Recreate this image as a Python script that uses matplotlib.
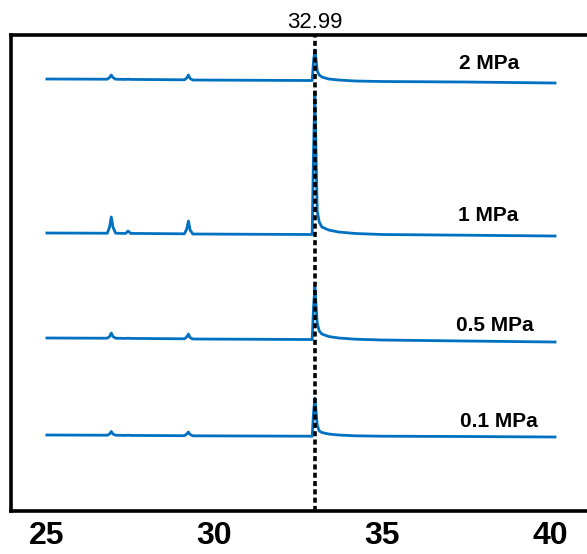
import matplotlib.pyplot as plt

# two-theta sample points (deg)
two_theta = [25.0, 26.8, 26.87, 26.92, 26.97, 27.05, 27.35, 27.42, 27.5,
             29.1, 29.17, 29.22, 29.27, 29.35, 32.91, 32.95, 32.99, 33.03,
             33.06, 33.12, 33.2, 33.4, 33.7, 34.2, 35.0, 37.5, 40.15]

# stacked intensity traces (offset already included)
i_01 = [76, 75.8, 77, 79.5, 77, 75.8, 75.6, 75.8, 75.6,
        75.3, 77, 79, 76.5, 75.2, 74.8, 98, 113, 98,
        86, 80, 78.5, 77, 76, 75.2, 74.8, 74.5, 74]
i_05 = [173, 172.8, 174.5, 178, 174.5, 172.8, 172.6, 172.8, 172.6,
        172.2, 174, 177, 173.5, 172, 171.5, 204, 224, 204,
        188, 180, 177, 174.5, 173, 171.8, 171, 170, 169]
i_1 = [278, 277.8, 284, 294, 284, 277.8, 277.6, 280, 277.6,
       277.2, 282, 290, 281, 277, 276.5, 360, 419, 350,
       300, 289, 284, 281, 279, 277.5, 276.5, 275.8, 275]
i_2 = [432, 431.8, 433.5, 436, 433.5, 431.8, 431.6, 431.8, 431.6,
       431.2, 433, 436, 432.5, 431, 430.5, 450, 461, 450,
       440, 436, 434, 432, 431, 430, 429.5, 429, 428]

labels = ['0.1 MPa', '0.5 MPa', '1 MPa', '2 MPa']
label_x = [38.48, 38.36, 38.15, 38.18]
label_y = [90, 186, 296, 448]

peak_pos = 32.99

fig = plt.figure(figsize=(5.87, 5.54), dpi=100)
ax = fig.add_axes([0.0187, 0.0776, 1.0034, 0.8592])

for trace in [i_01, i_05, i_1, i_2]:
    ax.plot(two_theta, trace, color='#0070C0', linewidth=2.0)

for txt, lx, ly in zip(labels, label_x, label_y):
    ax.text(lx, ly, txt, ha='center', va='center', fontsize=15,
            fontweight='bold', family=['Liberation Sans', 'DejaVu Sans'])

ax.axvline(peak_pos, color='black', linestyle=(0, (1.4, 0.9)), linewidth=2.6)
ax.text(peak_pos, 478, '32.99', ha='center', va='bottom', fontsize=16,
        family=['Liberation Sans', 'DejaVu Sans'])

ax.set_xlim(23.93, 41.49)
ax.set_ylim(0, 476)
ax.set_yticks([])
ax.set_xticks([25, 30, 35, 40])
ax.tick_params(axis='x', length=0, pad=7)
for lab in ax.get_xticklabels():
    lab.set_family(['Liberation Sans Narrow', 'Liberation Sans', 'DejaVu Sans'])
    lab.set_fontweight('bold')
    lab.set_fontsize(23)
for sp in ax.spines.values():
    sp.set_linewidth(2.6)

fig.savefig('out.png', dpi=100)
